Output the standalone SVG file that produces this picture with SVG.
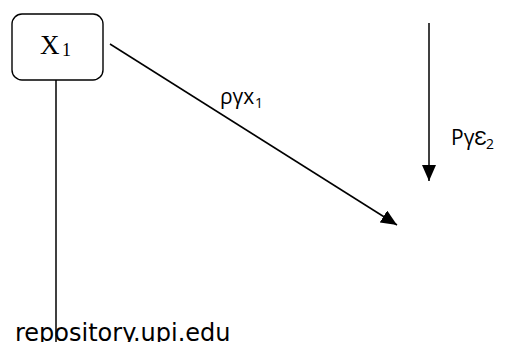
<svg xmlns="http://www.w3.org/2000/svg" width="505" height="342" viewBox="0 0 505 342">
<style>
.ln{stroke:#000;stroke-width:1.5;fill:none}
.box{fill:#fff;stroke:#000;stroke-width:1.4}
.lbl{font-family:"Open Sans","Liberation Sans",sans-serif;font-size:21px;fill:#000}
.sub{font-size:14px}
.tx{font-family:"Liberation Serif","Times New Roman",serif;fill:#000}
.wm{font-family:"DejaVu Sans",sans-serif;font-size:24px;fill:#000}
</style>
<defs>
<marker id="ah" markerUnits="userSpaceOnUse" markerWidth="16" markerHeight="14" refX="16" refY="7" orient="auto">
<path d="M0,0 L16,7 L0,14 z" fill="#000"/>
</marker>
</defs>
<g id="connectors">
<line class="ln" x1="56" y1="80" x2="56" y2="342"/>
<line class="ln" x1="110" y1="44" x2="397" y2="225" marker-end="url(#ah)"/>
<line class="ln" x1="429" y1="23" x2="429" y2="181" marker-end="url(#ah)"/>
</g>
<g id="x1">
<rect class="box" x="12" y="14" width="91" height="66" rx="10" ry="10"/>
<text class="tx" x="40" y="54" font-size="27">X<tspan x="62" y="56" font-size="18">1</tspan></text>
</g>
<g id="label-pyx1">
<text class="lbl" x="220" y="104">ργx<tspan class="sub" x="255" y="108">1</tspan></text>
</g>
<g id="label-pye2">
<text class="lbl" x="451" y="145">PγƐ<tspan class="sub" x="486" y="149">2</tspan></text>
</g>
<text class="wm" x="15" y="341">repository.upi.edu</text>
</svg>
